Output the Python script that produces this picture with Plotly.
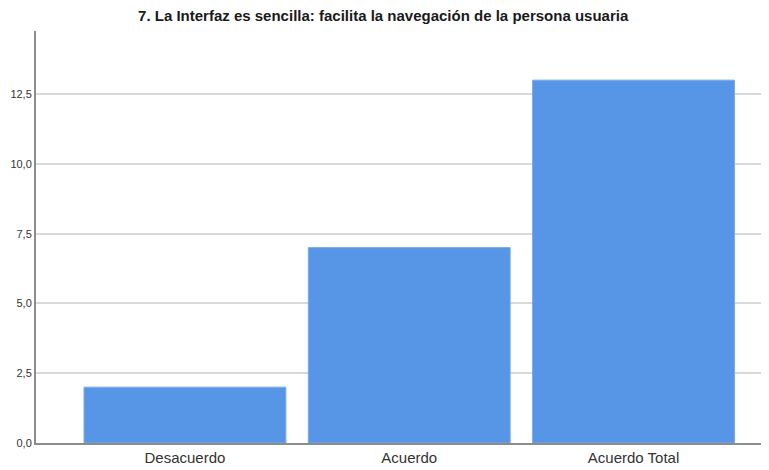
import plotly.graph_objects as go

categories = ["Desacuerdo", "Acuerdo", "Acuerdo Total"]
counts = [2, 7, 13]
y_ticks = [0, 2.5, 5, 7.5, 10, 12.5]

# the page body adds an 8px margin, so the figure is 8px smaller on each side
fig = go.Figure(
    data=go.Bar(
        x=list(range(len(categories))),
        y=counts,
        width=0.9,
        marker=dict(color="#5795E6", line=dict(color="#7AAAEB", width=1)),
        hoverinfo="skip",
    )
)

fig.update_layout(
    width=761,
    height=462,
    paper_bgcolor="white",
    plot_bgcolor="white",
    separators=",.",
    margin=dict(l=28, r=0, t=23, b=27),
    showlegend=False,
    font=dict(family="Liberation Sans, Arial, sans-serif", color="#333333"),
    title=dict(
        text="<b>7. La Interfaz es sencilla: facilita la navegación de la persona usuaria</b>",
        x=0.493,
        xanchor="center",
        y=0.984,
        yanchor="middle",
        font=dict(size=15, color="#1a1a1a"),
    ),
)

fig.update_xaxes(
    tickvals=list(range(len(categories))),
    ticktext=categories,
    range=[-0.664, 2.604],
    showgrid=False,
    showline=True,
    linecolor="#8c8c8c",
    linewidth=2,
    ticks="",
    tickfont=dict(size=15, color="#333333"),
    zeroline=False,
)

fig.update_yaxes(
    range=[0, 14.76],
    tickvals=y_ticks,
    tickformat=".1f",
    showgrid=True,
    gridcolor="#d9d9d9",
    gridwidth=1.5,
    showline=True,
    linecolor="#8c8c8c",
    linewidth=2,
    ticks="",
    tickfont=dict(size=11, color="#333333"),
    zeroline=False,
)

fig.write_html("out.html")
